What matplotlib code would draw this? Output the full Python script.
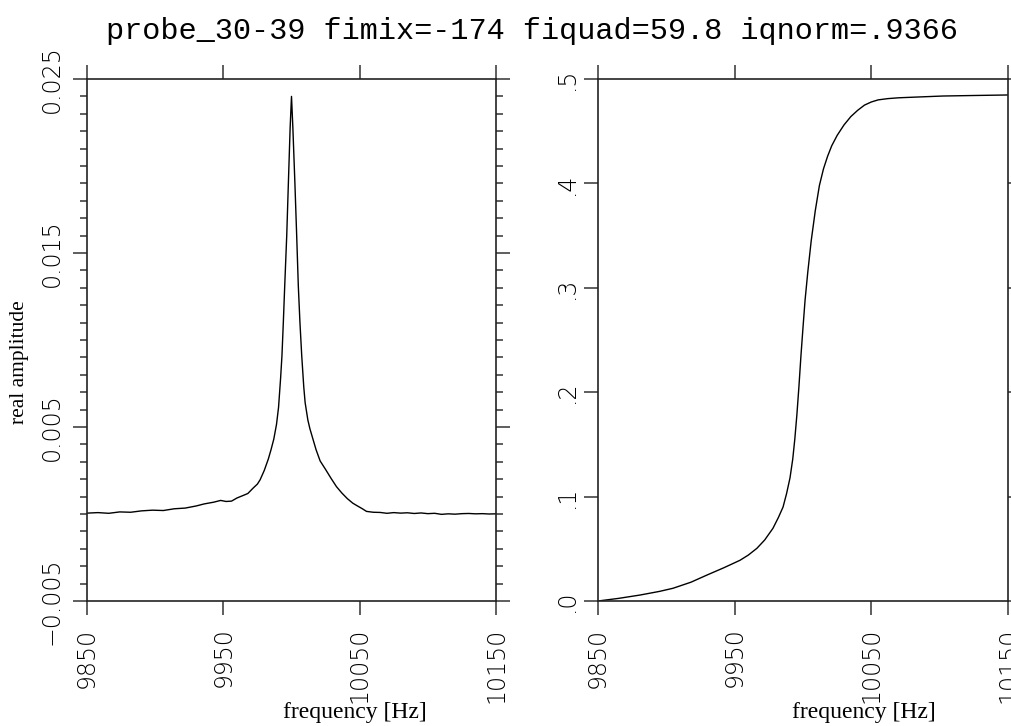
import matplotlib
matplotlib.use('Agg')
import matplotlib.pyplot as plt
from matplotlib import font_manager as fm
from matplotlib.ticker import FixedLocator, MultipleLocator, NullLocator

# ---------------- data ----------------
title_text = "probe_30-39 fimix=-174 fiquad=59.8 iqnorm=.9366"
x_label = "frequency [Hz]"
y_label_left = "real amplitude"

x_ticks = [9850, 9950, 10050, 10150]
x_tick_labels = ["9850", "9950", "10050", "10150"]

left_y_ticks = [-0.005, 0.005, 0.015, 0.025]
left_y_tick_labels = ["\u22120.005", "0.005", "0.015", "0.025"]

right_y_ticks = [0.0, 0.1, 0.2, 0.3, 0.4, 0.5]
right_y_tick_labels = [".0", ".1", ".2", ".3", ".4", ".5"]

left_freq = [9850, 9858, 9866, 9874, 9882, 9890, 9898, 9906, 9914, 9922,
             9930, 9936, 9943, 9948, 9952, 9956, 9960, 9965, 9968, 9972,
             9975, 9977, 9980, 9983, 9985, 9987, 9989, 9990.5, 9992, 9993,
             9994, 9995, 9996.5, 9997.7, 9999, 10000, 10001, 10002.5, 10003.8, 10005,
             10006.2, 10007.5, 10009, 10010, 10012, 10013.5, 10015, 10018, 10021, 10025,
             10029, 10033, 10037, 10041, 10045, 10048, 10052, 10055, 10060, 10065,
             10070, 10075, 10080, 10085, 10090, 10095, 10100, 10105, 10110, 10115,
             10120, 10125, 10130, 10135, 10140, 10145, 10150]
left_amp = [0.00005, 0.00008, 0.00004, 0.00012, 0.00010, 0.00018, 0.00022, 0.00020, 0.00030, 0.00034,
            0.00046, 0.00058, 0.00068, 0.00078, 0.00072, 0.00074, 0.00092, 0.00108, 0.00118, 0.00150,
            0.00172, 0.00197, 0.00250, 0.00316, 0.00370, 0.00430, 0.00515, 0.00613, 0.00780, 0.00910,
            0.01100, 0.01306, 0.01600, 0.01900, 0.02220, 0.02400, 0.02220, 0.01900, 0.01600, 0.01310,
            0.01100, 0.00910, 0.00730, 0.00640, 0.00540, 0.00490, 0.00450, 0.00370, 0.00305, 0.00256,
            0.00205, 0.00157, 0.00120, 0.00088, 0.00062, 0.00048, 0.00030, 0.00015, 0.00010, 0.00009,
            0.00004, 0.00008, 0.00005, 0.00007, 0.00003, 0.00006, 0.00002, 0.00004, -0.00002, 0.00001,
            -0.00001, 0.00002, 0.00003, 0.00001, 0.00002, 0.00000, 0.00001]

right_freq = [9850, 9865, 9880.7, 9895, 9904.9, 9918, 9929.8, 9942, 9953.9, 9960,
              9966.3, 9972, 9978.0, 9982, 9985.4, 9988, 9990.5, 9992.5, 9994, 9995.5,
              9997, 9998.5, 10000, 10001.5, 10003.5, 10006, 10009, 10012, 10015, 10018,
              10021, 10025, 10030, 10035, 10040, 10045, 10050, 10055, 10062, 10070,
              10085, 10102.4, 10125, 10150]
right_amp = [0.0, 0.0025, 0.0057, 0.0092, 0.0122, 0.0180, 0.0249, 0.0318, 0.0390, 0.0440,
             0.0505, 0.0585, 0.0696, 0.0800, 0.0900, 0.1030, 0.1180, 0.1360, 0.1550, 0.1780,
             0.2050, 0.2350, 0.2620, 0.2880, 0.3150, 0.3450, 0.3740, 0.3980, 0.4140, 0.4260,
             0.4360, 0.4460, 0.4560, 0.4640, 0.4700, 0.4750, 0.4780, 0.4800, 0.4812, 0.4820,
             0.4828, 0.4837, 0.4842, 0.4847]


# ---------------- fonts ----------------
def find_light():
    cands = ['DejaVu Sans', 'Roboto', 'Lato', 'Open Sans', 'Inter', 'Noto Sans']
    for name in cands:
        for f in fm.fontManager.ttflist:
            w = f.weight
            if isinstance(w, str):
                w = fm.weight_dict.get(w, 400)
            if f.name == name and f.style == 'normal' and w <= 300:
                return fm.FontProperties(fname=f.fname)
    return fm.FontProperties(family='DejaVu Sans')


tick_fp = find_light()
tick_fp.set_size(17)

W, H = 1011, 726
fig = plt.figure(figsize=(W / 100, H / 100), dpi=100)
fig.patch.set_facecolor('white')

ax_w = 409 / W
ax_h = 522 / H
ax_b = (H - 601) / H
axL = fig.add_axes([87 / W, ax_b, ax_w, ax_h])
axR = fig.add_axes([598 / W, ax_b, 410 / W, ax_h])

axL.plot(left_freq, left_amp, color='black', lw=1.0)
axR.plot(right_freq, right_amp, color='black', lw=1.0)

axL.set_xlim(9850, 10150)
axL.set_ylim(-0.005, 0.025)
axR.set_xlim(9850, 10150)
axR.set_ylim(0.0, 0.5)

for ax in (axL, axR):
    for sp in ax.spines.values():
        sp.set_linewidth(1.2)
        sp.set_color('#222222')
    ax.xaxis.set_major_locator(FixedLocator(x_ticks))
    ax.xaxis.set_minor_locator(NullLocator())
    ax.set_xticklabels(x_tick_labels, rotation=90, fontproperties=tick_fp)
    ax.tick_params(which='both', direction='out', top=True, right=True,
                   labeltop=False, labelright=False, color='#333333', width=1.1)
    ax.tick_params(which='major', length=10)
    ax.tick_params(which='minor', length=5)
    ax.tick_params(axis='x', pad=9)
    ax.tick_params(axis='y', pad=7)

axL.yaxis.set_major_locator(FixedLocator(left_y_ticks))
axL.yaxis.set_minor_locator(MultipleLocator(0.001))
axL.set_yticklabels(left_y_tick_labels, rotation=90, va='center', fontproperties=tick_fp)

axR.yaxis.set_major_locator(FixedLocator(right_y_ticks))
axR.yaxis.set_minor_locator(NullLocator())
axR.set_yticklabels(right_y_tick_labels, rotation=90, va='center', fontproperties=tick_fp)
axR.tick_params(axis='y', pad=4)

fig.text(532 / W, 1 - 39 / H, title_text, family='Liberation Mono', fontsize=21.8,
         ha='center', va='baseline')
fig.text(355 / W, 1 - 718 / H, x_label, family='Liberation Serif', fontsize=17,
         ha='center', va='baseline')
fig.text(864 / W, 1 - 718 / H, x_label, family='Liberation Serif', fontsize=17,
         ha='center', va='baseline')
fig.text(20 / W, 1 - 362 / H, y_label_left, family='Liberation Serif', fontsize=15.5,
         ha='center', va='center', rotation=90)

fig.savefig('out.png', dpi=100, facecolor='white')
